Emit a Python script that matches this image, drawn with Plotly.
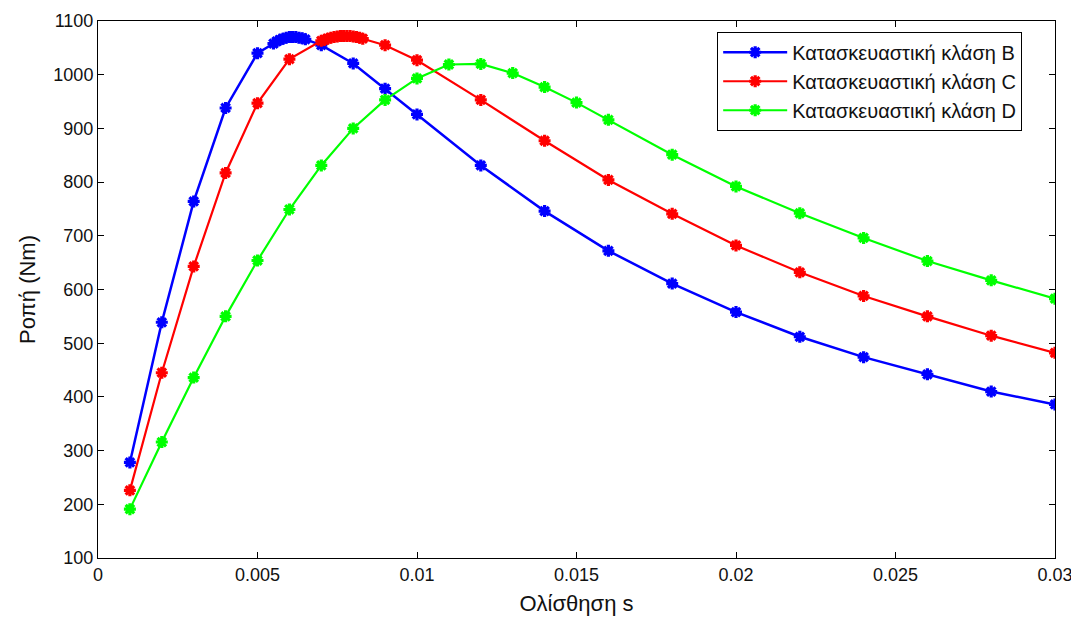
import plotly.graph_objects as go

# Slip values (s) and torque (Nm) for each design class
s_B = [0.001, 0.002, 0.003, 0.004, 0.005, 0.0055, 0.0056, 0.0057, 0.0058, 0.0059,
       0.006, 0.0061, 0.0062, 0.0063, 0.0064, 0.0065, 0.007, 0.008, 0.009, 0.01,
       0.012, 0.014, 0.016, 0.018, 0.02, 0.022, 0.024, 0.026, 0.028, 0.03]
T_B = [278, 539, 764, 938, 1040, 1058, 1062, 1065, 1067, 1069,
       1070, 1070, 1070, 1069, 1068, 1066, 1055, 1021, 974, 926,
       831, 746, 672, 611, 558, 512, 474, 442, 410, 386]

s_C = [0.001, 0.002, 0.003, 0.004, 0.005, 0.006, 0.007, 0.0071, 0.0072, 0.0073,
       0.0074, 0.0075, 0.0076, 0.0077, 0.0078, 0.0079, 0.008, 0.0081, 0.0082, 0.0083,
       0.009, 0.01, 0.012, 0.014, 0.016, 0.018, 0.02, 0.022, 0.024, 0.026, 0.028, 0.03]
T_C = [226, 445, 643, 817, 947, 1029, 1063, 1065, 1067, 1069,
       1070, 1071, 1072, 1072, 1072, 1072, 1071, 1070, 1069, 1067,
       1055, 1027, 953, 877, 804, 741, 682, 632, 588, 550, 514, 482]

s_D = [0.001, 0.002, 0.003, 0.004, 0.005, 0.006, 0.007, 0.008, 0.009, 0.01,
       0.011, 0.012, 0.013, 0.014, 0.015, 0.016, 0.018, 0.02, 0.022, 0.024,
       0.026, 0.028, 0.03]
T_D = [191, 316, 436, 550, 654, 749, 831, 900, 953, 993,
       1019, 1020, 1003, 977, 948, 916, 851, 792, 742, 696,
       653, 617, 583]

names = ["Κατασκευαστική κλάση B", "Κατασκευαστική κλάση C", "Κατασκευαστική κλάση D"]
colors = ["#0000ff", "#ff0000", "#00ff00"]

x_ticks = [0, 0.005, 0.01, 0.015, 0.02, 0.025, 0.03]
x_ticklabels = ["0", "0.005", "0.01", "0.015", "0.02", "0.025", "0.03"]
y_ticks = [100, 200, 300, 400, 500, 600, 700, 800, 900, 1000, 1100]

fig = go.Figure()
for xs, ys, nm, c, lw in [(s_B, T_B, names[0], colors[0], 2.5),
                          (s_C, T_C, names[1], colors[1], 2.2),
                          (s_D, T_D, names[2], colors[2], 2.2)]:
    fig.add_trace(go.Scatter(
        x=xs, y=ys, name=nm, mode="lines+markers",
        line=dict(color=c, width=lw),
        marker=dict(symbol="asterisk", size=10, color=c,
                    line=dict(color=c, width=3.2)),
    ))

font_family = "Liberation Sans, Arial, sans-serif"
fig.update_layout(
    width=1071, height=613,
    margin=dict(l=90, r=24, t=13, b=63),
    paper_bgcolor="white", plot_bgcolor="white",
    font=dict(family=font_family, color="#111111", size=18),
    showlegend=True,
    legend=dict(
        x=0.647, y=0.98, xanchor="left", yanchor="top",
        bgcolor="white", bordercolor="black", borderwidth=1,
        font=dict(size=20, family=font_family, color="#111111"),
        itemwidth=64, tracegroupgap=0,
    ),
    xaxis=dict(
        range=[0, 0.03], tickvals=x_ticks, ticktext=x_ticklabels,
        showgrid=False, zeroline=False, automargin=False,
        showline=True, linecolor="black", linewidth=1, mirror="ticks",
        ticks="inside", ticklen=6, tickcolor="black",
        tickfont=dict(size=18),
        title=dict(text="Ολίσθηση s", font=dict(size=22), standoff=12),
    ),
    yaxis=dict(
        range=[100, 1100], tickvals=y_ticks,
        showgrid=False, zeroline=False, automargin=False,
        showline=True, linecolor="black", linewidth=1, mirror="ticks",
        ticks="inside", ticklen=6, tickcolor="black",
        tickfont=dict(size=18),
        title=dict(text="Ροπή (Nm)", font=dict(size=22), standoff=11),
    ),
)

fig.write_html("out.html")
